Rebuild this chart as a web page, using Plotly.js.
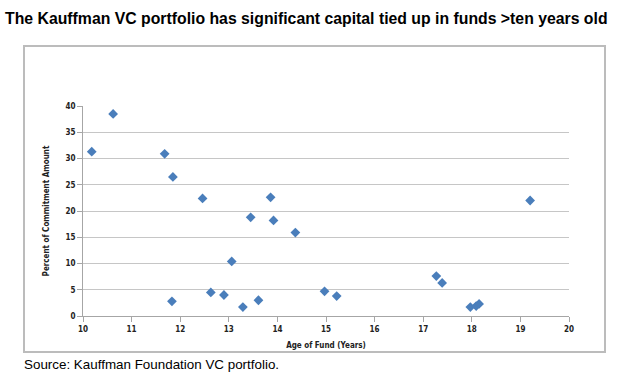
<!DOCTYPE html>
<html>
<head>
<meta charset="utf-8">
<script src="https://cdn.plot.ly/plotly-3.0.1.min.js"></script>
<style>html,body{margin:0;padding:0;background:#fff;}#chart{width:629px;height:377px;}</style>
</head>
<body>
<div id="chart"></div>
<script>
const titleText = "The Kauffman VC portfolio has significant capital tied up in funds >ten years old";
const sourceText = "Source: Kauffman Foundation VC portfolio.";
const xTitle = "Age of Fund (Years)";
const yTitle = "Percent of Commitment Amount";

const fundAge = [10.18, 10.62, 11.68, 11.85, 11.83, 12.46, 12.63, 12.90, 13.06, 13.29, 13.45, 13.61, 13.86, 13.92, 14.37, 14.97, 15.22, 17.27, 17.39, 17.97, 18.09, 18.15, 19.20];
const pctCommitment = [31.3, 38.5, 30.9, 26.5, 2.8, 22.4, 4.5, 4.0, 10.4, 1.7, 18.8, 3.0, 22.6, 18.2, 15.9, 4.7, 3.8, 7.6, 6.3, 1.7, 1.9, 2.3, 22.0];

const axisFont = {family: "DejaVu Sans Condensed, DejaVu Sans", size: 8, color: "#222"};

const trace = {
  x: fundAge, y: pctCommitment, type: "scatter", mode: "markers",
  marker: {symbol: "diamond", size: 7.5, color: "#4a7ebb", line: {width: 0}},
  hoverinfo: "x+y"
};

const L = 83, R = 569, T = 106, B = 316;
const W = 629, H = 377;
const pw = R - L, ph = B - T;
const px = v => (v - L) / pw;
const py = v => (B - v) / ph;

const layout = {
  width: W, height: H,
  margin: {l: L, r: W - R, t: T, b: H - B},
  paper_bgcolor: "#fff", plot_bgcolor: "#fff",
  showlegend: false,
  title: {text: "<b>" + titleText.replace(">", "&gt;") + "</b>", xref: "container", yref: "container", x: 5 / W, xanchor: "left", y: 1 - 18 / H, yanchor: "middle",
          font: {family: "Liberation Sans, Arial", size: 15.8, color: "#000"}},
  xaxis: {
    range: [10, 20], dtick: 1, tick0: 10, showgrid: false, zeroline: false,
    showline: true, linecolor: "#a6a6a6", linewidth: 1,
    ticks: "outside", ticklen: 5, tickcolor: "#a6a6a6",
    tickfont: {family: "DejaVu Sans Condensed, DejaVu Sans", size: 8, color: "#222", weight: "bold"},
    title: {text: "<b>" + xTitle + "</b>", font: axisFont, standoff: 9},
    fixedrange: true
  },
  yaxis: {
    range: [0, 40], dtick: 5, tick0: 0, showgrid: true, gridcolor: "#c6c6c6", gridwidth: 1, zeroline: false,
    showline: true, linecolor: "#a6a6a6", linewidth: 1,
    ticks: "outside", ticklen: 5, tickcolor: "#a6a6a6",
    tickfont: {family: "DejaVu Sans Condensed, DejaVu Sans", size: 8, color: "#222", weight: "bold"},
    title: {text: "<b>" + yTitle + "</b>", font: axisFont, standoff: 14},
    fixedrange: true
  },
  shapes: [
    {type: "rect", xref: "paper", yref: "paper", x0: px(24), x1: px(605), y0: py(352), y1: py(46),
     line: {color: "#bcbcbc", width: 2}, fillcolor: "rgba(0,0,0,0)", layer: "below"}
  ],
  annotations: [
    {text: sourceText, xref: "paper", yref: "paper", x: px(22), y: py(364), xanchor: "left", yanchor: "middle",
     showarrow: false, font: {family: "Liberation Sans, Arial", size: 13.4, color: "#000"}}
  ]
};

Plotly.newPlot("chart", [trace], layout, {displayModeBar: false, staticPlot: true});
</script>
</body>
</html>
